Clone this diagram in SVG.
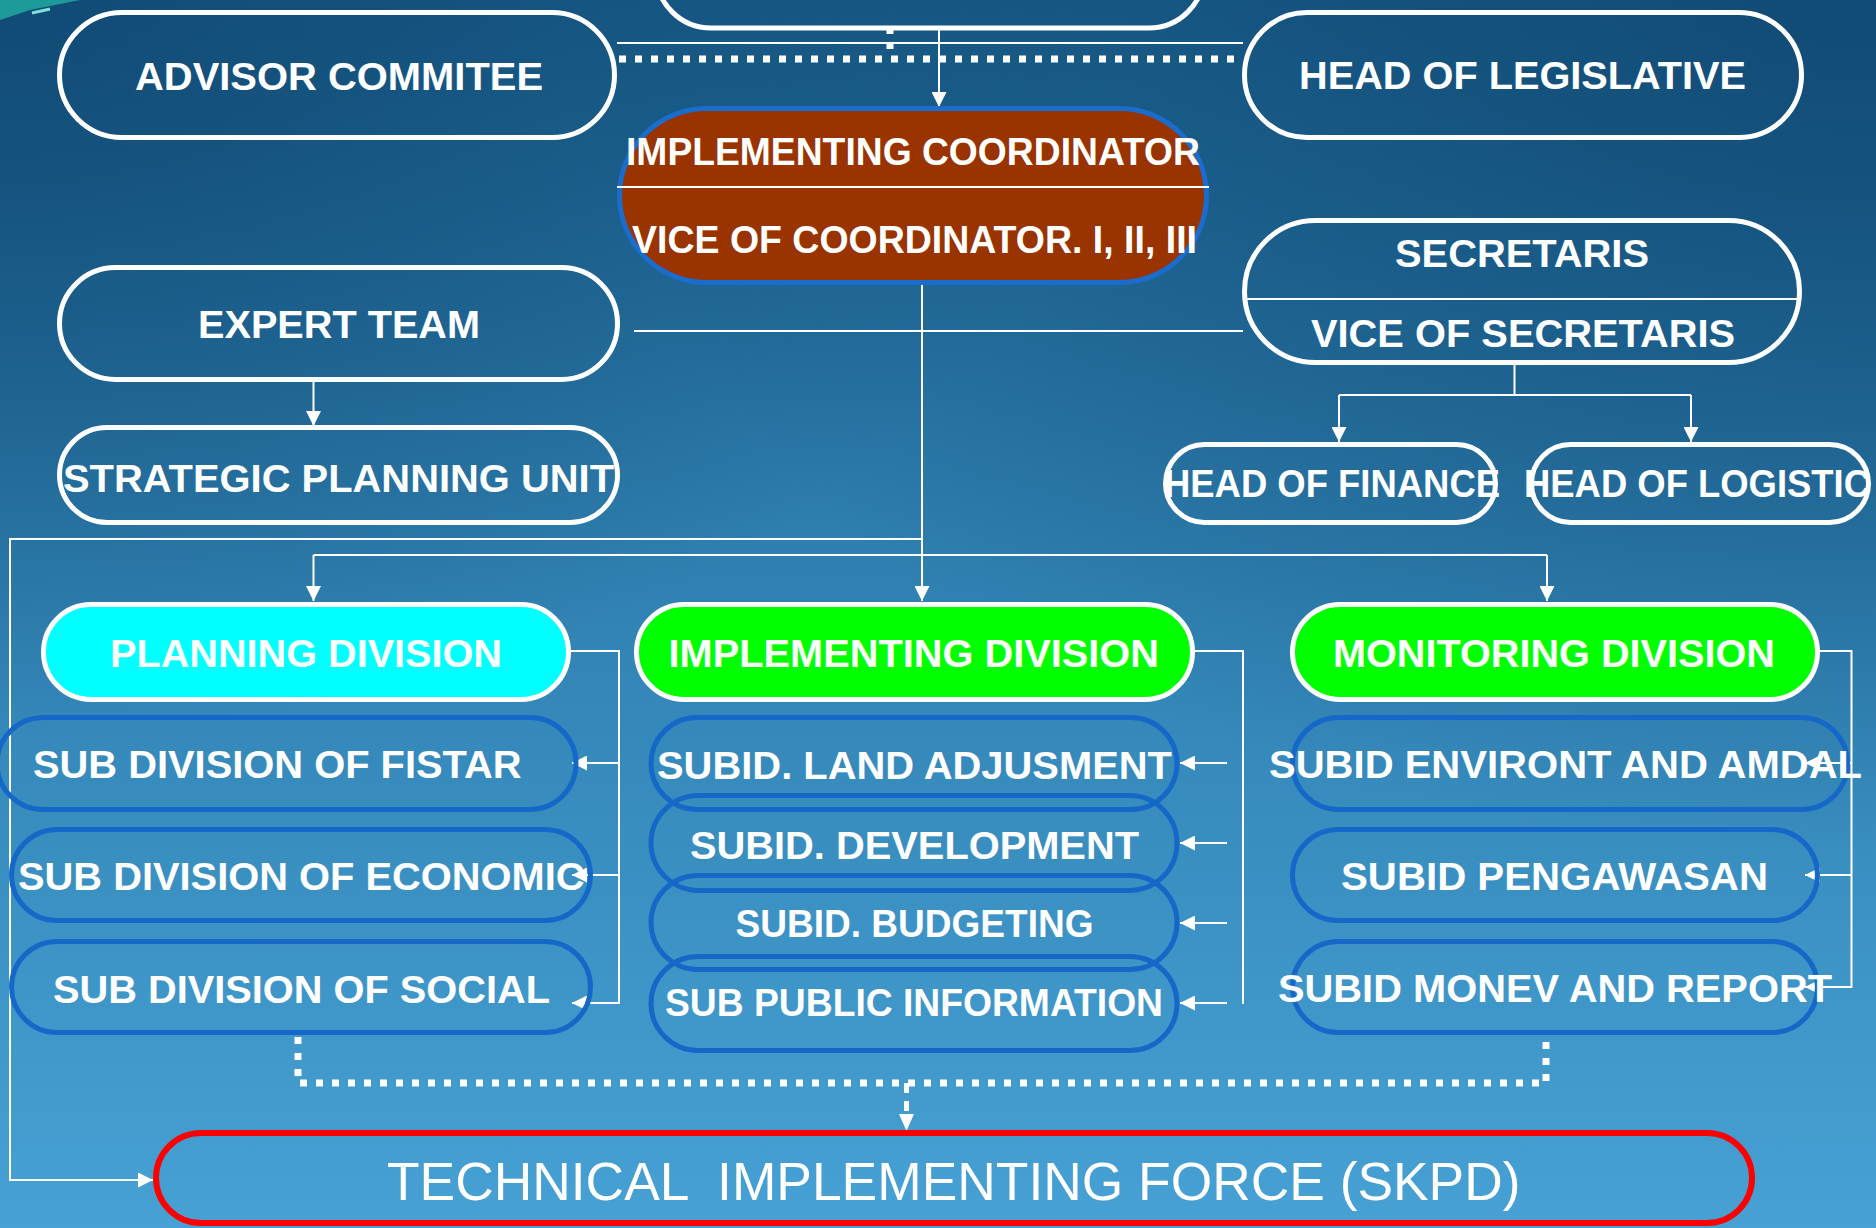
<svg xmlns="http://www.w3.org/2000/svg" width="1876" height="1228" viewBox="0 0 1876 1228">
<defs>
<linearGradient id="bg" x1="0" y1="0" x2="0" y2="1">
<stop offset="0" stop-color="#1A5E8B"/>
<stop offset="0.5" stop-color="#3183B4"/>
<stop offset="1" stop-color="#47A1D4"/>
</linearGradient>
<radialGradient id="tl" cx="0" cy="0" r="0.6">
<stop offset="0" stop-color="#0E4670" stop-opacity="0.8"/>
<stop offset="1" stop-color="#0E4670" stop-opacity="0"/>
</radialGradient>
<radialGradient id="tr" cx="1" cy="0" r="0.7">
<stop offset="0" stop-color="#0E4670" stop-opacity="0.8"/>
<stop offset="1" stop-color="#0E4670" stop-opacity="0"/>
</radialGradient>
<marker id="ah" viewBox="0 0 10 10" refX="10" refY="5" markerWidth="16" markerHeight="15" markerUnits="userSpaceOnUse" orient="auto">
<path d="M0,0 L10,5 L0,10 z" fill="#fff"/>
</marker>
</defs>
<style>
.w{fill:none;stroke:#fff;stroke-width:5}
.sub{fill:none;stroke:#1568C8;stroke-width:5}
.t{font-family:"Liberation Sans",Arial,Helvetica,sans-serif;font-weight:bold;font-size:39px;fill:#fff}
.ts{font-family:"Liberation Sans",Arial,Helvetica,sans-serif;font-weight:bold;font-size:38px;fill:#fff}
.c{fill:none;stroke:#fff;stroke-width:2}
.ca{fill:none;stroke:#fff;stroke-width:2;marker-end:url(#ah)}
.dot{fill:none;stroke:#fff;stroke-width:7;stroke-dasharray:7 9}
</style>
<rect width="1876" height="1228" fill="url(#bg)"/>
<rect width="1876" height="1228" fill="url(#tl)"/>
<rect width="1876" height="1228" fill="url(#tr)"/>
<path d="M0,20 L30,10 L80,0 L0,0 z" fill="#1FA9A0" opacity="0.85"/>
<path d="M32,13 L50,9" stroke="#7FE0D8" stroke-width="3"/>

<g id="connectors">
<line class="c" x1="617" y1="43" x2="1243" y2="43"/>
<line class="dot" x1="619" y1="59" x2="1240" y2="59"/>
<line x1="890" y1="28" x2="890" y2="55" stroke="#fff" stroke-width="7" stroke-dasharray="6 9"/>
<line class="ca" x1="939" y1="28" x2="939" y2="107"/>
<line class="ca" x1="922" y1="285" x2="922" y2="601"/>
<line class="c" x1="634" y1="331" x2="1243" y2="331"/>
<polyline class="c" points="1514.5,365 1514.5,395"/>
<polyline class="c" points="1339,395 1691,395"/>
<line class="ca" x1="1339" y1="395" x2="1339" y2="442"/>
<line class="ca" x1="1691" y1="395" x2="1691" y2="442"/>
<line class="ca" x1="313.5" y1="382" x2="313.5" y2="426"/>
<polyline class="ca" points="922,539 10,539 10,1180 153,1180"/>
<polyline class="c" points="313.5,555 1547,555"/>
<line class="ca" x1="313.5" y1="555" x2="313.5" y2="601"/>
<line class="ca" x1="1547" y1="555" x2="1547" y2="601"/>
<polyline class="ca" points="571,651 619,651 619,1003 572,1003"/>
<line class="ca" x1="619" y1="763" x2="572" y2="763"/>
<line class="ca" x1="619" y1="875" x2="572" y2="875"/>
<polyline class="c" points="1195,651 1243,651 1243,1004"/>
<line class="ca" x1="1227" y1="763" x2="1180" y2="763"/>
<line class="ca" x1="1227" y1="843" x2="1180" y2="843"/>
<line class="ca" x1="1227" y1="923" x2="1180" y2="923"/>
<line class="ca" x1="1227" y1="1003" x2="1180" y2="1003"/>
<polyline class="ca" points="1820,651 1851.5,651 1851.5,987 1805,987"/>
<line class="ca" x1="1851.5" y1="763" x2="1805" y2="763"/>
<line class="ca" x1="1851.5" y1="875" x2="1805" y2="875"/>
<polyline class="dot" points="298,1037 298,1083 1546,1083 1546,1037"/>
<line x1="906.5" y1="1083" x2="906.5" y2="1116" stroke="#fff" stroke-width="5" stroke-dasharray="10 8"/>
<path d="M899,1114 L914,1114 L906.5,1131 z" fill="#fff"/>
</g>

<g id="top-node"><rect class="w" x="656" y="-82" width="548" height="110" rx="55"/></g>
<g id="advisor"><rect class="w" x="59.5" y="12.5" width="555" height="125" rx="62.5"/>
<text class="t" x="135" y="90" textLength="408" lengthAdjust="spacingAndGlyphs">ADVISOR COMMITEE</text></g>
<g id="legislative"><rect class="w" x="1244.5" y="12.5" width="557" height="125" rx="62.5"/>
<text class="t" x="1299" y="89" textLength="447" lengthAdjust="spacingAndGlyphs">HEAD OF LEGISLATIVE</text></g>
<g id="coordinator"><rect x="619.5" y="108.5" width="587" height="174" rx="87" fill="#993300" stroke="#1A6DCC" stroke-width="5"/>
<line x1="617" y1="187" x2="1209" y2="187" stroke="#fff" stroke-width="2"/>
<text class="t" x="626" y="165" textLength="574" lengthAdjust="spacingAndGlyphs">IMPLEMENTING COORDINATOR</text>
<text class="t" x="632" y="253" textLength="565" lengthAdjust="spacingAndGlyphs">VICE OF COORDINATOR. I, II, III</text></g>
<g id="expert"><rect class="w" x="59.5" y="267.5" width="558" height="112" rx="56"/>
<text class="t" x="198" y="338" textLength="282" lengthAdjust="spacingAndGlyphs">EXPERT TEAM</text></g>
<g id="secretaris"><rect class="w" x="1244.5" y="220.5" width="555" height="142" rx="71"/>
<line x1="1245" y1="299" x2="1799" y2="299" stroke="#fff" stroke-width="2"/>
<text class="t" x="1395" y="267" textLength="254" lengthAdjust="spacingAndGlyphs">SECRETARIS</text>
<text class="t" x="1311" y="347" textLength="424" lengthAdjust="spacingAndGlyphs">VICE OF SECRETARIS</text></g>
<g id="strategic"><rect class="w" x="59.5" y="427.5" width="558" height="95" rx="47.5"/>
<text class="t" x="63" y="492" textLength="551" lengthAdjust="spacingAndGlyphs">STRATEGIC PLANNING UNIT</text></g>
<g id="finance"><rect class="w" x="1165.5" y="444.5" width="330" height="78" rx="39"/>
<text class="t" x="1164" y="497" textLength="336" lengthAdjust="spacingAndGlyphs">HEAD OF FINANCE</text></g>
<g id="logistic"><rect class="w" x="1531.5" y="444.5" width="337" height="78" rx="39"/>
<text class="t" x="1524" y="497" textLength="346" lengthAdjust="spacingAndGlyphs">HEAD OF LOGISTIC</text></g>
<g id="planning"><rect x="43.5" y="604.5" width="525" height="95" rx="47.5" fill="#00FFFF" stroke="#fff" stroke-width="5"/>
<text class="t" x="110" y="667" textLength="392" lengthAdjust="spacingAndGlyphs">PLANNING DIVISION</text></g>
<g id="implementing"><rect x="636.5" y="604.5" width="556" height="95" rx="47.5" fill="#00FF00" stroke="#fff" stroke-width="5"/>
<text class="t" x="668.5" y="667" textLength="490.5" lengthAdjust="spacingAndGlyphs">IMPLEMENTING DIVISION</text></g>
<g id="monitoring"><rect x="1292.5" y="604.5" width="525" height="95" rx="47.5" fill="#00FF00" stroke="#fff" stroke-width="5"/>
<text class="t" x="1333" y="667" textLength="442" lengthAdjust="spacingAndGlyphs">MONITORING DIVISION</text></g>
<g id="fistar"><rect class="sub" x="-3" y="717.5" width="579" height="92" rx="46"/>
<text class="ts" x="33" y="778" textLength="488.5" lengthAdjust="spacingAndGlyphs">SUB DIVISION OF FISTAR</text></g>
<g id="economic"><rect class="sub" x="11.5" y="829.5" width="579" height="91" rx="45.5"/>
<text class="ts" x="18" y="890" textLength="566.5" lengthAdjust="spacingAndGlyphs">SUB DIVISION OF ECONOMIC</text></g>
<g id="social"><rect class="sub" x="11.5" y="941.5" width="579" height="91" rx="45.5"/>
<text class="ts" x="53" y="1003" textLength="497" lengthAdjust="spacingAndGlyphs">SUB DIVISION OF SOCIAL</text></g>
<g id="land"><rect class="sub" x="651" y="717.5" width="526" height="92" rx="46"/>
<text class="ts" x="657" y="779" textLength="515" lengthAdjust="spacingAndGlyphs">SUBID. LAND ADJUSMENT</text></g>
<g id="development"><rect class="sub" x="651" y="795.5" width="526" height="95" rx="47.5"/>
<text class="ts" x="690" y="859" textLength="449" lengthAdjust="spacingAndGlyphs">SUBID. DEVELOPMENT</text></g>
<g id="budgeting"><rect class="sub" x="651" y="875.5" width="526" height="94" rx="47"/>
<text class="ts" x="735.5" y="937" textLength="358" lengthAdjust="spacingAndGlyphs">SUBID. BUDGETING</text></g>
<g id="public"><rect class="sub" x="651" y="956.5" width="526" height="94" rx="47"/>
<text class="ts" x="665" y="1016" textLength="498" lengthAdjust="spacingAndGlyphs">SUB PUBLIC INFORMATION</text></g>
<g id="amdal"><rect class="sub" x="1292.5" y="717.5" width="555" height="92" rx="46"/>
<text class="ts" x="1269" y="778" textLength="593" lengthAdjust="spacingAndGlyphs">SUBID ENVIRONT AND AMDAL</text></g>
<g id="pengawasan"><rect class="sub" x="1292.5" y="829.5" width="525" height="91" rx="45.5"/>
<text class="ts" x="1341" y="890" textLength="427" lengthAdjust="spacingAndGlyphs">SUBID PENGAWASAN</text></g>
<g id="monev"><rect class="sub" x="1292.5" y="941.5" width="525" height="91" rx="45.5"/>
<text class="ts" x="1278" y="1002" textLength="554" lengthAdjust="spacingAndGlyphs">SUBID MONEV AND REPORT</text></g>
<g id="technical"><rect x="156" y="1133" width="1596" height="90" rx="45" fill="none" stroke="#FF0000" stroke-width="6"/>
<text x="387" y="1200" xml:space="preserve" textLength="1133.5" lengthAdjust="spacingAndGlyphs" font-family="'Liberation Sans',Arial,Helvetica,sans-serif" font-size="53" fill="#fff">TECHNICAL  IMPLEMENTING FORCE (SKPD)</text></g>
</svg>
